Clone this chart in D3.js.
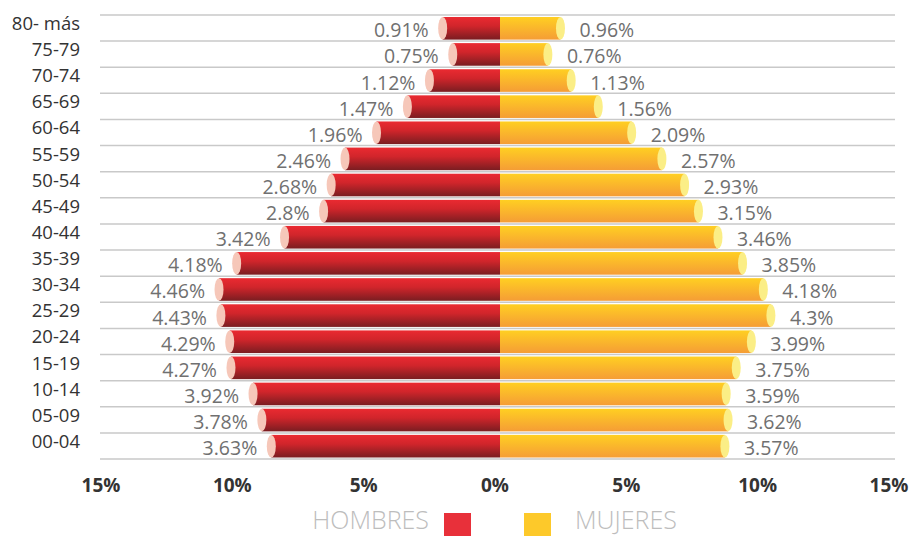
<!DOCTYPE html>
<html>
<head>
<meta charset="utf-8">
<script src="https://cdn.jsdelivr.net/npm/d3@7"></script>
<style>
  body { margin: 0; background: #fff; }
  svg { display: block; font-family: "Open Sans", "Noto Sans", sans-serif; }
</style>
</head>
<body>
<svg id="chart" width="912" height="536"></svg>
<script>
// grupos de edad, de arriba a abajo
const grupos = ["80- más", "75-79", "70-74", "65-69", "60-64", "55-59", "50-54", "45-49",
  "40-44", "35-39", "30-34", "25-29", "20-24", "15-19", "10-14", "05-09", "00-04"]
const hombres = [0.91, 0.75, 1.12, 1.47, 1.96, 2.46, 2.68, 2.8, 3.42, 4.18, 4.46, 4.43, 4.29, 4.27, 3.92, 3.78, 3.63]
const mujeres = [0.96, 0.76, 1.13, 1.56, 2.09, 2.57, 2.93, 3.15, 3.46, 3.85, 4.18, 4.3, 3.99, 3.75, 3.59, 3.62, 3.57]
const ticksEje = [-15, -10, -5, 0, 5, 10, 15]
const leyenda = ["HOMBRES", "MUJERES"]

const svg = d3.select("#chart")
const centro = 500

// escala de las barras (valores de las etiquetas)
const xBar = d3.scaleLinear().domain([-6, 6]).range([centro - 378, centro + 378])
// escala del eje inferior
const xEje = d3.scaleLinear().domain([-15, 15]).range([101, 889])
const y = d3.scaleBand().domain(grupos).range([15, 459])

const defs = svg.append("defs")
const gradH = defs.append("linearGradient").attr("id", "gradH")
  .attr("x1", 0).attr("y1", 0).attr("x2", 0).attr("y2", 1)
gradH.append("stop").attr("offset", "0%").attr("stop-color", "#ea2a31")
gradH.append("stop").attr("offset", "40%").attr("stop-color", "#d1252b")
gradH.append("stop").attr("offset", "100%").attr("stop-color", "#7a1d21")
const gradM = defs.append("linearGradient").attr("id", "gradM")
  .attr("x1", 0).attr("y1", 0).attr("x2", 0).attr("y2", 1)
gradM.append("stop").attr("offset", "0%").attr("stop-color", "#ffcf22")
gradM.append("stop").attr("offset", "100%").attr("stop-color", "#f59d36")

// lineas separadoras
const lineas = d3.range(grupos.length + 1).map(i => i === grupos.length ? y.range()[1] : y(grupos[i]))
svg.append("g").selectAll("line").data(lineas).join("line")
  .attr("x1", 100).attr("x2", 895)
  .attr("y1", d => d).attr("y2", d => d)
  .attr("stroke", "#c9c9c9").attr("stroke-width", 1.5)

// etiquetas de grupos
svg.append("g").selectAll("text").data(grupos).join("text")
  .attr("x", 80)
  .attr("y", d => y(d) + y.bandwidth() / 2 - 3)
  .attr("text-anchor", "end")
  .attr("dominant-baseline", "middle")
  .attr("font-size", 18.5)
  .attr("fill", "#333")
  .text(d => d)

const barTop = d => y(d) + 2
const barH = y.bandwidth() - 3.5

// hombres
const gH = svg.append("g")
gH.selectAll("rect").data(grupos).join("rect")
  .attr("x", (d, i) => xBar(-hombres[i]))
  .attr("y", barTop)
  .attr("width", (d, i) => centro - xBar(-hombres[i]))
  .attr("height", barH)
  .attr("fill", "url(#gradH)")
gH.selectAll("ellipse").data(grupos).join("ellipse")
  .attr("cx", (d, i) => xBar(-hombres[i]))
  .attr("cy", d => barTop(d) + barH / 2)
  .attr("rx", 4.5).attr("ry", barH / 2)
  .attr("fill", "#f6c7b9")
gH.selectAll("text").data(grupos).join("text")
  .attr("x", (d, i) => xBar(-hombres[i]) - 14)
  .attr("y", d => y(d) + y.bandwidth() / 2 + 4)
  .attr("text-anchor", "end")
  .attr("dominant-baseline", "middle")
  .attr("font-size", 19.5)
  .attr("fill", "#707070")
  .text((d, i) => hombres[i] + "%")

// mujeres
const gM = svg.append("g")
gM.selectAll("rect").data(grupos).join("rect")
  .attr("x", centro)
  .attr("y", barTop)
  .attr("width", (d, i) => xBar(mujeres[i]) - centro)
  .attr("height", barH)
  .attr("fill", "url(#gradM)")
gM.selectAll("ellipse").data(grupos).join("ellipse")
  .attr("cx", (d, i) => xBar(mujeres[i]))
  .attr("cy", d => barTop(d) + barH / 2)
  .attr("rx", 4.5).attr("ry", barH / 2)
  .attr("fill", "#fbee86")
gM.selectAll("text").data(grupos).join("text")
  .attr("x", (d, i) => xBar(mujeres[i]) + 19)
  .attr("y", d => y(d) + y.bandwidth() / 2 + 4)
  .attr("dominant-baseline", "middle")
  .attr("font-size", 19.5)
  .attr("fill", "#707070")
  .text((d, i) => mujeres[i] + "%")

// eje inferior
svg.append("g").selectAll("text").data(ticksEje).join("text")
  .attr("x", d => xEje(d))
  .attr("y", 487)
  .attr("text-anchor", "middle")
  .attr("dominant-baseline", "middle")
  .attr("font-size", 19)
  .attr("font-weight", "bold")
  .attr("fill", "#333")
  .text(d => Math.abs(d) + "%")

// leyenda
const gL = svg.append("g")
gL.append("text").attr("x", 429).attr("y", 529)
  .attr("text-anchor", "end").attr("font-size", 25).attr("font-weight", 300)
  .attr("fill", "#bdbdbd").text(leyenda[0])
gL.append("rect").attr("x", 444).attr("y", 513).attr("width", 27).attr("height", 27).attr("fill", "#e8303a")
gL.append("rect").attr("x", 524).attr("y", 513).attr("width", 27).attr("height", 27).attr("fill", "#fdc92a")
gL.append("text").attr("x", 575).attr("y", 529)
  .attr("font-size", 25).attr("font-weight", 300)
  .attr("fill", "#bdbdbd").text(leyenda[1])
</script>
</body>
</html>
